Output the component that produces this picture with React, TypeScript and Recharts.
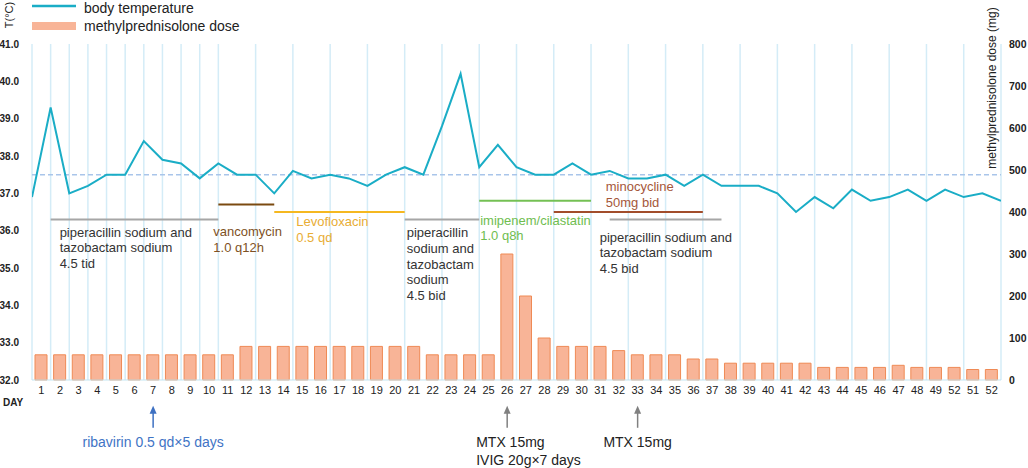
import React from "react";
import {
  ComposedChart,
  Bar,
  Line,
  XAxis,
  YAxis,
  CartesianGrid,
  ReferenceLine,
} from "recharts";

// day labels as printed under the bars (the source repeats 52 near the end)
const dayLabels = [
  1, 2, 3, 4, 5, 6, 7, 8, 9, 10, 11, 12, 13, 14, 15, 16, 17, 18, 19, 20, 21, 22, 23, 24, 25, 26,
  27, 28, 29, 30, 31, 32, 33, 34, 35, 36, 37, 38, 39, 40, 41, 42, 43, 44, 45, 46, 47, 48, 49, 52,
  51, 52,
];

// methylprednisolone dose (mg), one per day
const doses = [
  60, 60, 60, 60, 60, 60, 60, 60, 60, 60, 60, 80, 80, 80, 80, 80, 80, 80, 80, 80, 80, 60, 60, 60,
  60, 300, 200, 100, 80, 80, 80, 70, 60, 60, 60, 50, 50, 40, 40, 40, 40, 40, 30, 30, 30, 30, 35,
  30, 30, 30, 25, 25,
];

// body temperature (°C), drawn on the day boundaries
const temps = [
  36.9, 39.3, 37.0, 37.2, 37.5, 37.5, 38.4, 37.9, 37.8, 37.4, 37.8, 37.5, 37.5, 37.0, 37.6, 37.4,
  37.5, 37.4, 37.2, 37.5, 37.7, 37.5, 38.8, 40.2, 37.7, 38.3, 37.7, 37.5, 37.5, 37.8, 37.5, 37.6,
  37.4, 37.4, 37.5, 37.2, 37.5, 37.2, 37.2, 37.2, 37.0, 36.5, 36.9, 36.6, 37.1, 36.8, 36.9, 37.1,
  36.8, 37.1, 36.9, 37.0, 36.8,
];

const tempTicks = [32, 33, 34, 35, 36, 37, 38, 39, 40, 41];
const doseTicks = [0, 100, 200, 300, 400, 500, 600, 700, 800];
const feverLine = 37.5;

const barRows = dayLabels.map((day, i) => ({ i, day, dose: doses[i] }));
const tempRows = temps.map((temp, t) => ({ t, temp }));
const gridTicks = temps.map((_, t) => t);

const FONT = "'Liberation Sans', Arial, sans-serif";

// treatment periods, from/to in day-boundary units, y in °C
const meds = [
  { from: 1, to: 10, y: 36.3, line: "#a6a6a6", text: "#333333", lines: ["piperacillin sodium and", "tazobactam sodium", "4.5 tid"], dx: 9, dy: 12.7 },
  { from: 10, to: 13, y: 36.7, line: "#7b4a10", text: "#7e5124", lines: ["vancomycin", "1.0 q12h"], dx: -5, dy: 27 },
  { from: 13, to: 20, y: 36.5, line: "#f5b820", text: "#e8ad35", lines: ["Levofloxacin", "0.5 qd"], dx: 22, dy: 9.5 },
  { from: 20, to: 24, y: 36.3, line: "#a6a6a6", text: "#333333", lines: ["piperacillin", "sodium and", "tazobactam", "sodium", "4.5 bid"], dx: 2, dy: 13.3 },
  { from: 24, to: 30, y: 36.8, line: "#74c054", text: "#6fbd50", lines: ["imipenem/cilastatin", "1.0 q8h"], dx: 1, dy: 19.3 },
  { from: 28, to: 36, y: 36.5, line: "#a24d2b", text: "#a5573a", lines: ["minocycline", "50mg bid"], dx: 52, dy: -25.7 },
  { from: 31, to: 37, y: 36.3, line: "#a6a6a6", text: "#333333", lines: ["piperacillin sodium and", "tazobactam sodium", "4.5 bid"], dx: -10, dy: 17.7 },
];

// arrows under the axis, at day centres
const arrows = [
  { at: 6.5, color: "#3d70c2", text: "#3f74c5", lines: ["ribavirin 0.5 qd×5 days"], anchor: "middle", dx: 0 },
  { at: 25.5, color: "#808080", text: "#222222", lines: ["MTX 15mg", "IVIG 20g×7 days"], anchor: "start", dx: -31 },
  { at: 32.5, color: "#808080", text: "#222222", lines: ["MTX 15mg"], anchor: "middle", dx: 0 },
];

const medShape = (m: (typeof meds)[number]) => (p: any) => (
  <g>
    <line x1={p.x1} y1={p.y1} x2={p.x2} y2={p.y2} stroke={m.line} strokeWidth={2} />
    {m.lines.map((s, k) => (
      <text
        key={k}
        x={p.x1 + m.dx}
        y={p.y1 + m.dy + k * 15.7}
        dominantBaseline="central"
        fill={m.text}
        fontSize={13}
        fontFamily={FONT}
      >
        {s}
      </text>
    ))}
  </g>
);

const arrowShape = (a: (typeof arrows)[number]) => (p: any) => {
  const top = Math.min(p.y1, p.y2);
  const bottom = Math.max(p.y1, p.y2);
  const x = p.x1;
  return (
    <g>
      <line x1={x} y1={top + 6} x2={x} y2={bottom} stroke={a.color} strokeWidth={1.5} />
      <polygon points={`${x},${top} ${x - 3.5},${top + 8} ${x + 3.5},${top + 8}`} fill={a.color} />
      {a.lines.map((s, k) => (
        <text
          key={k}
          x={x + a.dx}
          y={bottom + 14 + k * 18.3}
          dominantBaseline="central"
          textAnchor={a.anchor as any}
          fill={a.text}
          fontSize={14}
          fontFamily={FONT}
        >
          {s}
        </text>
      ))}
    </g>
  );
};

export default function App() {
  return (
    <div style={{ position: "absolute", left: 0, top: 0, width: 1028, height: 468, fontFamily: FONT, background: "#fff" }}>
      <ComposedChart
        width={1028}
        height={468}
        data={barRows}
        margin={{ top: 44, right: 0, bottom: 58, left: 0 }}
      >
        <CartesianGrid xAxisId="line" yAxisId="left" horizontal={false} stroke="#d4ecf7" strokeWidth={1.5} />
        <XAxis
          xAxisId="bar"
          dataKey="i"
          type="category"
          interval={0}
          height={30}
          tickLine={false}
          tickSize={0}
          tickMargin={6}
          axisLine={{ stroke: "#c3e5f2" }}
          tickFormatter={(i: number) => String(dayLabels[i])}
          tick={{ fontSize: 11, fill: "#222" }}
        />
        <XAxis xAxisId="line" dataKey="t" type="number" domain={[0, 52]} ticks={gridTicks} allowDataOverflow hide />
        <YAxis
          yAxisId="left"
          orientation="left"
          width={32}
          domain={[32, 41]}
          ticks={tempTicks}
          allowDataOverflow
          axisLine={false}
          tickLine={false}
          tickSize={0}
          tickMargin={13}
          tickFormatter={(v: number) => v.toFixed(1)}
          tick={{ fontSize: 10, fill: "#222", fontWeight: 700 }}
        />
        <YAxis
          yAxisId="right"
          orientation="right"
          width={27}
          domain={[0, 800]}
          ticks={doseTicks}
          axisLine={false}
          tickLine={false}
          tickSize={0}
          tickMargin={8}
          tick={{ fontSize: 10.5, fill: "#222", fontWeight: 600 }}
        />
        <ReferenceLine
          xAxisId="line"
          yAxisId="left"
          y={feverLine}
          stroke="#a9c5ea"
          strokeWidth={1.5}
          strokeDasharray="5 3"
        />
        <Bar
          xAxisId="bar"
          yAxisId="right"
          dataKey="dose"
          barSize={12}
          fill="#f8b497"
          stroke="#ef8a55"
          strokeWidth={1}
          isAnimationActive={false}
        />
        <Line
          xAxisId="line"
          yAxisId="left"
          data={tempRows}
          dataKey="temp"
          type="linear"
          stroke="#1aadc6"
          strokeWidth={2}
          dot={false}
          activeDot={false}
          isAnimationActive={false}
        />
        {meds.map((m, k) => (
          <ReferenceLine
            key={"m" + k}
            xAxisId="line"
            yAxisId="left"
            ifOverflow="visible"
            segment={[{ x: m.from, y: m.y }, { x: m.to, y: m.y }]}
            shape={medShape(m)}
          />
        ))}
        {arrows.map((a, k) => (
          <ReferenceLine
            key={"a" + k}
            xAxisId="line"
            yAxisId="left"
            ifOverflow="visible"
            segment={[{ x: a.at, y: 31.31 }, { x: a.at, y: 30.72 }]}
            shape={arrowShape(a)}
          />
        ))}
      </ComposedChart>

      {/* legend and free axis titles */}
      <svg width={1028} height={468} style={{ position: "absolute", left: 0, top: 0, pointerEvents: "none" }}>
        <line x1={32} y1={6} x2={76} y2={6} stroke="#1aadc6" strokeWidth={2.5} />
        <text x={84} y={8} dominantBaseline="central" fontSize={14} fill="#222">body temperature</text>
        <rect x={32} y={22} width={44} height={8} fill="#f8b497" />
        <text x={84} y={26} dominantBaseline="central" fontSize={14} fill="#222">methylprednisolone dose</text>
        <text transform="translate(9,15) rotate(-90)" textAnchor="middle" dominantBaseline="central" fontSize={11} fill="#222">T(°C)</text>
        <text x={3} y={402} dominantBaseline="central" fontSize={10} fontWeight={700} fill="#222">DAY</text>
        <text transform="translate(992,88) rotate(-90)" textAnchor="middle" dominantBaseline="central" fontSize={12} fill="#222">methylprednisolone dose (mg)</text>
      </svg>
    </div>
  );
}
